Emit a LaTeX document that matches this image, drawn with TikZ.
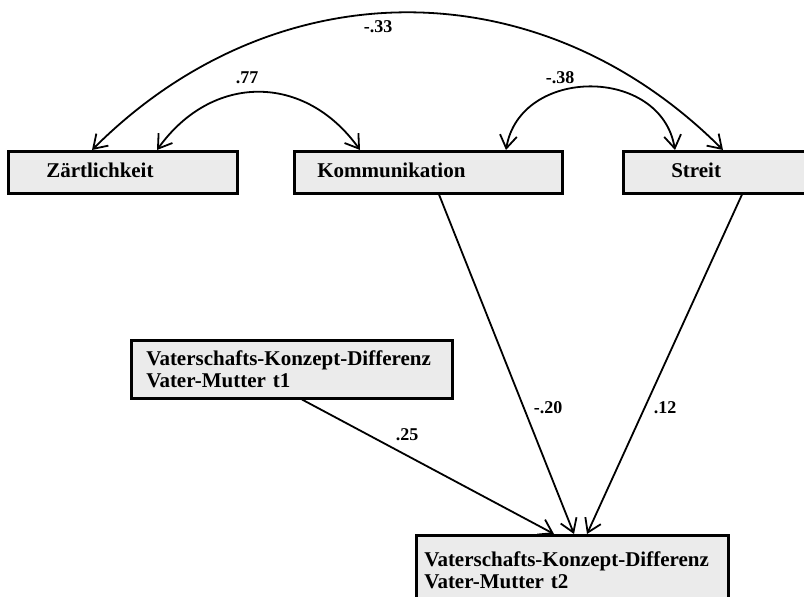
\documentclass[tikz,border=0pt]{standalone}
\usepackage{fontspec}
\setmainfont{Liberation Serif}
\usetikzlibrary{arrows.meta}
\definecolor{boxfill}{RGB}{235,235,235}
\tikzset{
  box/.style={draw=black, line width=2.5pt, fill=boxfill, rectangle, anchor=north west,
    font=\fontsize{21}{21.5}\selectfont\bfseries, align=left, inner ysep=0pt},
  lbl/.style={font=\fontsize{18}{20}\selectfont\bfseries, inner sep=0pt},
  tip/.tip={Straight Barb[length=13pt,width=17pt]},
  path/.style={line width=1.8pt, -tip},
  corr/.style={line width=1.8pt, tip-tip}
}
\begin{document}
\begin{tikzpicture}[x=1pt,y=-1pt]
\useasboundingbox (0,0) rectangle (804,597);
\clip (0,0) rectangle (804,597);
% boxes
\node[box, minimum width=229, minimum height=42, inner xsep=38, text width=153,
      text height=14, text depth=4] (zart) at (7,150) {Zärtlichkeit};
\node[box, minimum width=268, minimum height=42, inner xsep=23, text width=222,
      text height=14, text depth=4] (komm) at (293,150) {Kommunikation};
\node[box, minimum width=190, minimum height=42, inner xsep=48, text width=94,
      text height=14, text depth=4] (streit) at (622,150) {Streit};
\node[box, minimum width=321, minimum height=58, inner xsep=15, text width=291] (t1) at (130,339)
  {Vaterschafts-Konzept-Differenz\\Vater-Mutter t1};
\node[box, minimum width=312, minimum height=70, inner xsep=8, text width=296] (t2) at (415,534)
  {Vaterschafts-Konzept-Differenz\\Vater-Mutter t2};
% correlations
\draw[corr] ([xshift=85]zart.north west) .. controls (275,-33) and (540,-33) .. ([xshift=101]streit.north west);
\draw[corr] ([xshift=150]zart.north west) .. controls (212,73) and (305,73) .. ([xshift=67]komm.north west);
\draw[corr] ([xshift=213]komm.north west) .. controls (520,66) and (661,66) .. ([xshift=53]streit.north west);
% paths
\draw[path] ([xshift=146]komm.south west) -- ([xshift=159]t2.north west);
\draw[path] ([xshift=120]streit.south west) -- ([xshift=172]t2.north west);
\draw[path] ([xshift=172]t1.south west) -- ([xshift=139]t2.north west);
% labels
\node[lbl] (l33) at (378,27) {-.33};
\node[lbl] (l77) at (247,78) {.77};
\node[lbl] (l38) at (560,78) {-.38};
\node[lbl] (l20) at (548,408) {-.20};
\node[lbl] (l12) at (665,408) {.12};
\node[lbl] (l25) at (407,435) {.25};
\end{tikzpicture}
\end{document}
